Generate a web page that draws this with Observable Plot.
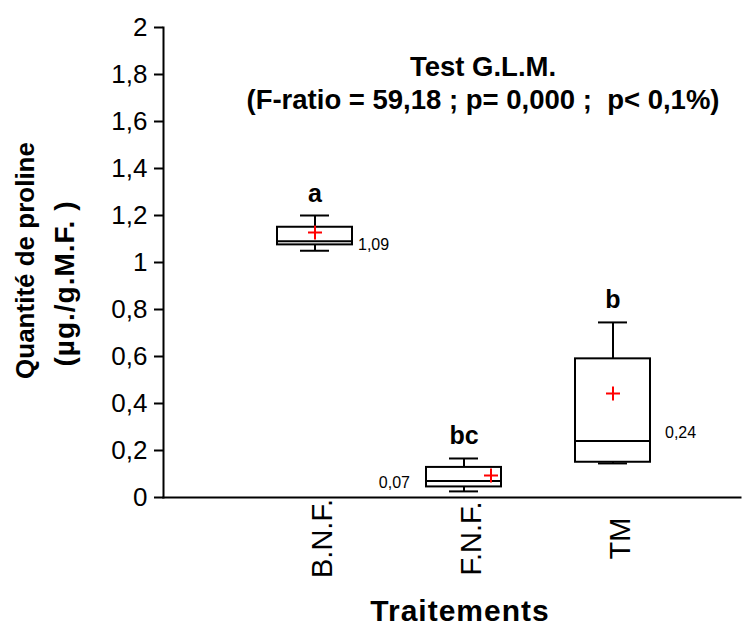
<!DOCTYPE html>
<html><head><meta charset="utf-8">
<script src="https://cdn.jsdelivr.net/npm/d3@7"></script>
<script src="https://cdn.jsdelivr.net/npm/@observablehq/plot@0.6"></script>
<style>body{margin:0;background:#fff}</style>
</head><body><div id="chart"></div>
<script>
const categories = ["B.N.F.", "F.N.F.", "TM"];
const whiskerLow = [1.05, 0.026, 0.145];
const q1 = [1.075, 0.045, 0.15];
const median = [1.09, 0.07, 0.24];
const q3 = [1.15, 0.128, 0.59];
const whiskerHigh = [1.2, 0.166, 0.745];
const means = [1.128, 0.094, 0.443];
const groupLetters = ["a", "bc", "b"];
const medianLabels = ["1,09", "0,07", "0,24"];
const yTicks = [0, 0.2, 0.4, 0.6, 0.8, 1, 1.2, 1.4, 1.6, 1.8, 2];
const titleLines = ["Test G.L.M.", "(F-ratio = 59,18 ; p= 0,000 ;\u00a0\u00a0p< 0,1%)"];
const yLabelLines = ["Quantité de proline", "(µg./g.M.F.\u00a0)"];
const xLabel = "Traitements";

const rows = categories.map((c, i) => ({
  cat: c, lo: whiskerLow[i], q1: q1[i], med: median[i], q3: q3[i], hi: whiskerHigh[i],
  mean: means[i], letter: groupLetters[i], label: medianLabels[i]
}));

const thinPlus = {
  draw(ctx, size) {
    const r = Math.sqrt(size / Math.PI);
    ctx.moveTo(-r, 0); ctx.lineTo(r, 0);
    ctx.moveTo(0, -r); ctx.lineTo(0, r);
  }
};

const font = "'Liberation Sans', Arial, sans-serif";

const chart = Plot.plot({
  width: 748,
  height: 626,
  marginTop: 27,
  marginBottom: 129,
  marginLeft: 163,
  marginRight: 8,
  style: {fontFamily: font, fontSize: "16px", color: "black", background: "white"},
  x: {type: "band", domain: categories, range: [239, 688], padding: 0, axis: null},
  y: {domain: [0, 2], axis: null},
  marks: [
    Plot.frame({anchor: "left", strokeWidth: 2}),
    Plot.frame({anchor: "bottom", strokeWidth: 2}),
    Plot.axisY({ticks: yTicks, tickFormat: d => String(d).replace(".", ","), tickSize: 9, tickPadding: 7, fontSize: 26, strokeWidth: 2, label: null}),
    // x category labels
    Plot.text(categories, {x: d => d, frameAnchor: "bottom", dy: 41, dx: 8, rotate: -90, textAnchor: "middle", lineAnchor: "middle", fontSize: 29}),
    // whiskers
    Plot.ruleX(rows, {x: "cat", y1: "lo", y2: "q1", strokeWidth: 2}),
    Plot.ruleX(rows, {x: "cat", y1: "q3", y2: "hi", strokeWidth: 2}),
    Plot.tickY(rows, {x: "cat", y: "lo", strokeWidth: 2, insetLeft: 60, insetRight: 60}),
    Plot.tickY(rows, {x: "cat", y: "hi", strokeWidth: 2, insetLeft: 60, insetRight: 60}),
    // boxes
    Plot.barY(rows, {x: "cat", y1: "q1", y2: "q3", fill: "white", stroke: "black", strokeWidth: 2, insetLeft: 37, insetRight: 37}),
    Plot.tickY(rows, {x: "cat", y: "med", strokeWidth: 2, insetLeft: 37, insetRight: 37}),
    // means
    Plot.dot(rows, {filter: (d, i) => i !== 1, x: "cat", y: "mean", symbol: thinPlus, r: 7, stroke: "red", strokeWidth: 2, fill: "none"}),
    Plot.dot(rows, {filter: (d, i) => i === 1, x: "cat", y: "mean", symbol: thinPlus, r: 7, dx: 27, stroke: "red", strokeWidth: 2, fill: "none"}),
    // group letters
    Plot.text(rows, {x: "cat", y: "hi", text: "letter", dy: -14, lineAnchor: "bottom", fontWeight: "bold", fontSize: 25}),
    // median labels
    Plot.text(rows, {filter: (d, i) => i === 0, x: "cat", y: "med", text: "label", dx: 43, dy: 4, textAnchor: "start", fontSize: 16}),
    Plot.text(rows, {filter: (d, i) => i === 1, x: "cat", y: "med", text: "label", dx: -54, dy: 2, textAnchor: "end", fontSize: 16}),
    Plot.text(rows, {filter: (d, i) => i === 2, x: "cat", y: "med", text: "label", dx: 52, dy: -8, textAnchor: "start", fontSize: 16}),
    // title
    Plot.text([titleLines[0]], {frameAnchor: "top", dx: 31, dy: 40, lineAnchor: "middle", fontWeight: "bold", fontSize: 27.5}),
    Plot.text([titleLines[1]], {frameAnchor: "top", dx: 31, dy: 73, lineAnchor: "middle", fontWeight: "bold", fontSize: 27.5}),
    // y label
    Plot.text([yLabelLines[0]], {frameAnchor: "left", dx: -138, dy: -2, rotate: -90, textAnchor: "middle", lineAnchor: "middle", fontWeight: "bold", fontSize: 26}),
    Plot.text([yLabelLines[1]], {frameAnchor: "left", dx: -98, dy: 21, rotate: -90, textAnchor: "middle", lineAnchor: "middle", fontWeight: "bold", fontSize: 28}),
    // x label
    Plot.text([xLabel], {frameAnchor: "bottom", dx: 8, dy: 114, lineAnchor: "middle", fontWeight: "bold", fontSize: 30})
  ]
});
d3.select(chart).selectAll("text").filter(function() { return this.textContent === xLabel || this.textContent === yLabelLines[1]; }).attr("letter-spacing", 1);
document.getElementById("chart").appendChild(chart);
</script>
</body></html>
